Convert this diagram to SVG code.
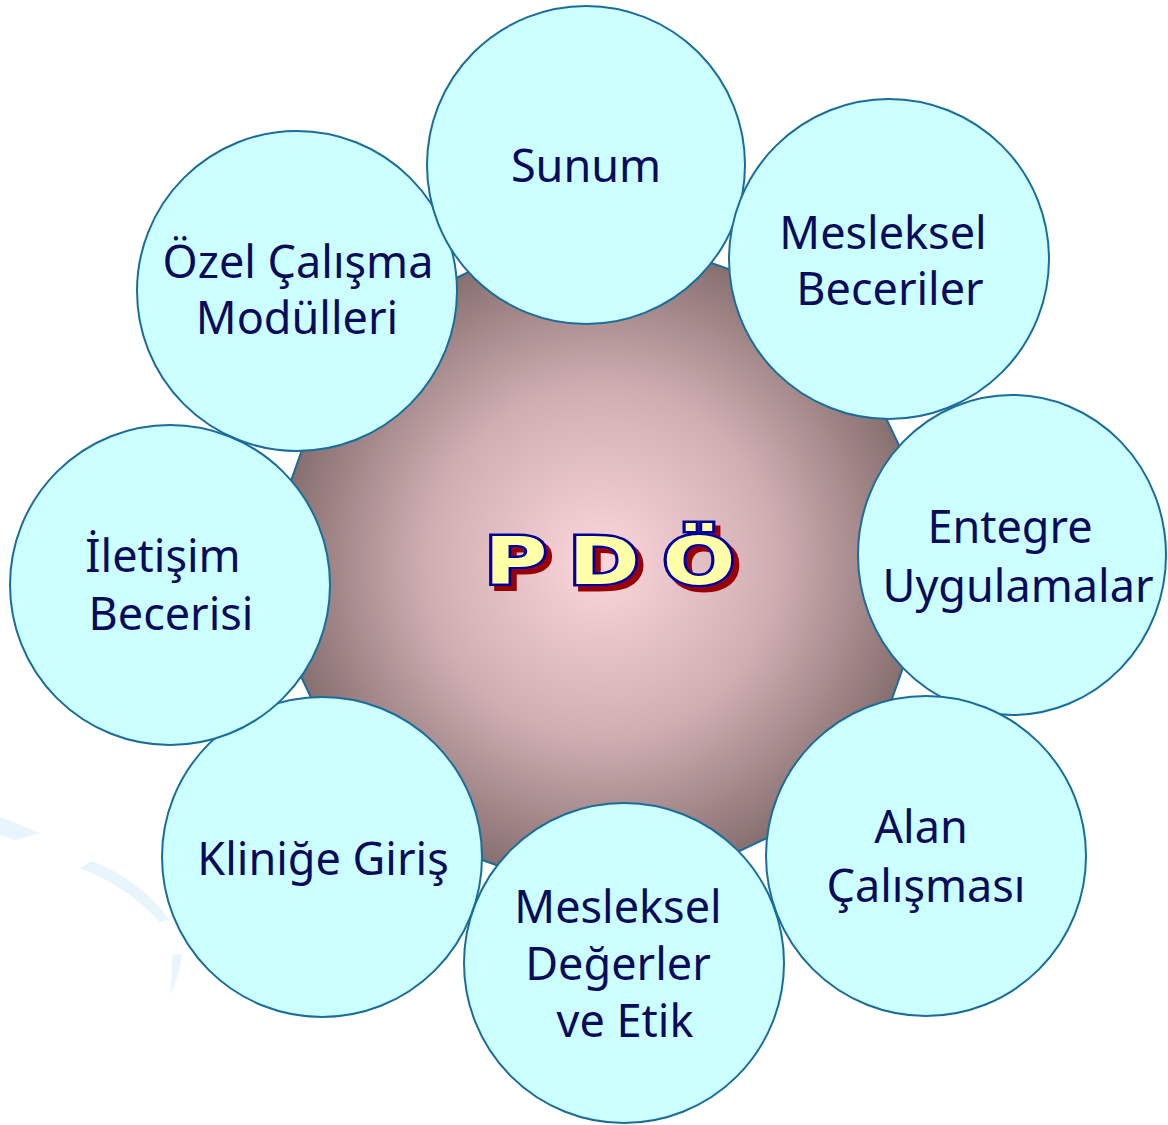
<svg xmlns="http://www.w3.org/2000/svg" width="1168" height="1125" viewBox="0 0 1168 1125">
<defs>
<radialGradient id="g" gradientUnits="userSpaceOnUse" cx="601" cy="563" r="350">
<stop offset="0" stop-color="#fcd6da"/>
<stop offset="0.5" stop-color="#cfaeb2"/>
<stop offset="1" stop-color="#786262"/>
</radialGradient>
<filter id="sh" x="-20%" y="-20%" width="150%" height="150%">
<feFlood flood-color="#990000" result="c"/>
<feComposite in="c" in2="SourceAlpha" operator="in" result="s"/>
<feOffset in="s" dx="5" dy="5" result="o"/>
<feMerge><feMergeNode in="o"/><feMergeNode in="SourceGraphic"/></feMerge>
</filter>
<style>
.c{fill:#ccffff;stroke:#1a6d9a;stroke-width:2}
.t{font-family:"Noto Sans","DejaVu Sans",sans-serif;font-size:45px;fill:#0b0b5c;text-anchor:middle}
.p{font-family:"DejaVu Sans","Liberation Sans",sans-serif;font-weight:bold;font-size:66px;text-anchor:middle;fill:#ffffa8;stroke:#000099;stroke-width:5;paint-order:stroke}
.d{fill:#e8f5fd}
</style>
</defs>
<rect width="1168" height="1125" fill="#ffffff"/>
<g id="decor">
<path class="d" d="M0,817 L40,833 L15,840 L0,835 Z"/>
<path class="d" d="M80,868 L92,861 Q140,880 170,920 L160,922 Q125,885 80,868 Z"/>
<path class="d" d="M172,955 L182,954 Q180,975 170,995 Q172,975 172,955 Z"/>
</g>
<g id="center">
<polygon points="946.5,544.9 858.1,794.5 619.1,908.5 369.5,820.1 255.5,581.1 343.9,331.5 582.9,217.5 832.5,305.9" fill="url(#g)" stroke="#1a6d9a" stroke-width="2"/>
<g class="p" filter="url(#sh)">
<text transform="translate(516,584) scale(1.3,1)">P</text>
<text transform="translate(604,584) scale(1.3,1)">D</text>
<text transform="translate(699,584) scale(1.3,1)">Ö</text>
</g>
</g>
<g id="connectors"/>
<g id="n-ozel"><circle class="c" cx="297" cy="291" r="160"/><text class="t"><tspan x="298" y="278">Özel Çalışma</tspan><tspan x="297" y="334">Modülleri</tspan></text></g>
<g id="n-sunum"><circle class="c" cx="586" cy="165" r="159"/><text class="t" x="586" y="182">Sunum</text></g>
<g id="n-mesleksel"><circle class="c" cx="889" cy="259" r="160"/><text class="t"><tspan x="883" y="249">Mesleksel</tspan><tspan x="890" y="305">Beceriler</tspan></text></g>
<g id="n-entegre"><ellipse class="c" cx="1012" cy="555" rx="154" ry="160"/><text class="t"><tspan x="1010" y="543">Entegre</tspan><tspan x="1018" y="602">Uygulamalar</tspan></text></g>
<g id="n-alan"><circle class="c" cx="926" cy="856" r="160"/><text class="t"><tspan x="921" y="843">Alan</tspan><tspan x="926" y="902">Çalışması</tspan></text></g>
<g id="n-degerler"><circle class="c" cx="624" cy="963" r="160"/><text class="t"><tspan x="618" y="923">Mesleksel</tspan><tspan x="618" y="980">Değerler</tspan><tspan x="625" y="1037">ve Etik</tspan></text></g>
<g id="n-klinik"><circle class="c" cx="322" cy="857" r="160"/><text class="t" x="323" y="875">Kliniğe Giriş</text></g>
<g id="n-iletisim"><circle class="c" cx="170" cy="585" r="160"/><text class="t"><tspan x="163" y="572">İletişim</tspan><tspan x="171" y="630">Becerisi</tspan></text></g>
</svg>
